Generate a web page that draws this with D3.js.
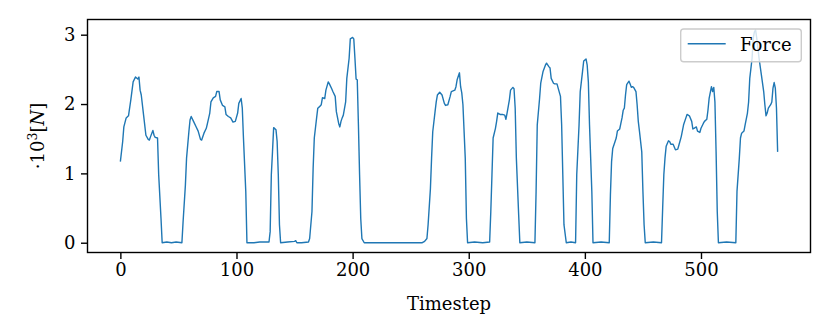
<!DOCTYPE html>
<html>
<head>
<meta charset="utf-8">
<script src="https://cdn.jsdelivr.net/npm/d3@7"></script>
<style>
  body { margin: 0; background: #fff; }
  svg { font-family: 'DejaVu Serif', serif; }
</style>
</head>
<body>
<script>
// timestep and force (x10^3 N)
const timestep = [
  0, 2, 3, 5, 7, 9, 11, 13, 15, 16, 17, 18, 20, 22, 24, 25, 26, 28, 29, 30, 32, 33, 35, 36, 40, 44, 48, 53,
  54, 56, 57, 59, 60, 61, 63, 65, 67, 69, 70, 72, 74, 75, 77, 78, 80, 82, 83, 85, 86, 88, 90, 91, 93, 95, 97, 99,
  101, 102, 104, 105, 106, 108, 109, 115, 120, 128,
  129, 130, 131, 132, 134, 135, 136, 137, 138, 144, 150, 151, 152, 156, 162,
  163, 165, 166, 167, 169, 170, 172, 173, 174, 176, 177, 179, 180, 182, 183, 185, 186, 188, 189, 190, 191, 192,
  194, 195, 197, 198, 200, 201, 202, 203, 204, 205, 206, 207, 208, 210, 230, 250, 260, 262, 264,
  265, 267, 268, 269, 271, 272, 273, 275, 277, 279, 280, 282, 284, 285, 288, 289, 290, 292, 293, 294, 295, 297,
  298, 299, 305, 312, 318,
  319, 320, 321, 323, 324, 325, 327, 329, 331, 332, 333, 335, 336, 338, 339, 340, 341, 343, 344, 350, 357,
  358, 359, 361, 362, 364, 366, 367, 369, 370, 371, 373, 374, 376, 377, 379, 380, 381, 382, 384, 388, 392,
  393, 395, 396, 398, 399, 401, 402, 403, 404, 406, 407, 414, 421,
  422, 423, 424, 426, 427, 428, 430, 431, 432, 433, 434, 435, 436, 438, 439, 440, 441, 442, 444, 445, 446, 447,
  449, 450, 451, 452, 459, 466,
  467, 468, 469, 470, 472, 473, 474, 476, 478, 480, 481, 483, 485, 487, 488, 490, 492, 493, 494, 496, 497, 499,
  500, 502, 503, 505, 506, 507, 509, 510, 511, 512, 513, 514, 515, 522, 530,
  531, 533, 534, 535, 537, 538, 540, 541, 542, 544, 545, 546, 547, 548, 550, 552, 554, 555, 556, 557, 558, 560,
  561, 562, 563, 564, 565, 566
];
const force = [
  1.17, 1.46, 1.67, 1.80, 1.83, 2.06, 2.32, 2.39, 2.36, 2.39, 2.20, 2.13, 1.84, 1.55, 1.49, 1.48, 1.53, 1.62, 1.55, 1.52, 1.51, 0.98, 0.35, 0.00, 0.01, 0.00, 0.01, 0.00,
  0.30, 0.83, 1.22, 1.60, 1.77, 1.82, 1.75, 1.68, 1.61, 1.49, 1.48, 1.58, 1.65, 1.72, 1.87, 2.03, 2.09, 2.11, 2.18, 2.18, 2.06, 1.98, 1.96, 1.85, 1.82, 1.80, 1.74, 1.75,
  1.87, 2.01, 2.08, 1.94, 1.51, 0.74, 0.00, 0.00, 0.01, 0.01,
  0.16, 0.98, 1.31, 1.66, 1.63, 1.46, 0.98, 0.26, 0.00, 0.01, 0.02, 0.03, 0.00, 0.00, 0.01,
  0.06, 0.45, 1.07, 1.51, 1.80, 1.94, 1.97, 1.99, 2.09, 2.08, 2.20, 2.32, 2.29, 2.22, 2.18, 2.11, 1.89, 1.72, 1.67, 1.75, 1.80, 1.84,
  2.03, 2.37, 2.66, 2.94, 2.96, 2.94, 2.66, 2.36, 2.35, 1.70, 0.98, 0.35, 0.06, 0.00, 0.00, 0.00, 0.00, 0.02, 0.06,
  0.26, 0.78, 1.22, 1.60, 1.89, 2.03, 2.13, 2.17, 2.13, 2.01, 1.98, 1.99, 2.11, 2.18, 2.20, 2.25, 2.35, 2.45, 2.25, 2.16, 1.99, 1.22,
  0.35, 0.00, 0.01, 0.00, 0.01,
  0.45, 0.98, 1.51, 1.65, 1.75, 1.87, 1.85, 1.85, 1.84, 1.78, 1.87, 2.06, 2.20, 2.24, 2.22, 1.94, 1.22, 0.40, 0.00, 0.01, 0.00,
  0.74, 1.70, 2.08, 2.30, 2.47, 2.56, 2.59, 2.54, 2.52, 2.37, 2.30, 2.29, 2.29, 2.23, 2.11, 1.70, 0.98, 0.26, 0.00, 0.01, 0.00,
  0.98, 1.70, 2.18, 2.47, 2.62, 2.65, 2.56, 2.32, 1.70, 0.74, 0.00, 0.01, 0.00,
  0.69, 1.17, 1.36, 1.46, 1.51, 1.61, 1.64, 1.72, 1.80, 1.91, 1.94, 2.13, 2.28, 2.33, 2.29, 2.24, 2.25, 2.24, 2.18, 1.99, 1.75, 1.61,
  1.31, 0.74, 0.26, 0.00, 0.01, 0.00,
  0.50, 0.98, 1.22, 1.39, 1.47, 1.46, 1.42, 1.42, 1.34, 1.35, 1.41, 1.53, 1.70, 1.80, 1.85, 1.83, 1.75, 1.64, 1.65, 1.67, 1.61, 1.59,
  1.65, 1.72, 1.75, 1.78, 1.91, 2.08, 2.25, 2.18, 2.24, 2.03, 1.31, 0.45, 0.00, 0.01, 0.00,
  0.74, 1.22, 1.51, 1.58, 1.61, 1.70, 1.87, 2.03, 2.37, 2.66, 2.95, 3.04, 3.07, 2.95, 2.66, 2.42, 2.18, 1.99, 1.83, 1.87, 1.94, 1.99,
  2.03, 2.23, 2.31, 2.23, 1.94, 1.31
];
const xTicks = [0, 100, 200, 300, 400, 500];
const yTicks = [0, 1, 2, 3];
const seriesName = 'Force';

const width = 830;
const height = 332;
const margin = { top: 19.5, right: 19.5, bottom: 79.5, left: 87.5 };
const fontSize = 18;

const data = timestep.map((t, i) => ({ t: t, v: force[i] }));

const svg = d3.select('body').append('svg')
  .attr('width', width)
  .attr('height', height);

const xScale = d3.scaleLinear()
  .domain([-28.3, 594.3])
  .range([margin.left, width - margin.right]);

const yScale = d3.scaleLinear()
  .domain([-0.141, 3.219])
  .range([height - margin.bottom, margin.top]);

const xAxis = d3.axisBottom(xScale)
  .tickValues(xTicks)
  .tickFormat(d3.format('d'))
  .tickSize(6.5)
  .tickPadding(4)
  .tickSizeOuter(0);

const yAxis = d3.axisLeft(yScale)
  .tickValues(yTicks)
  .tickFormat(d3.format('d'))
  .tickSize(6.5)
  .tickPadding(5.5)
  .tickSizeOuter(0);

const gx = svg.append('g')
  .attr('transform', 'translate(0,' + (height - margin.bottom) + ')')
  .call(xAxis);
const gy = svg.append('g')
  .attr('transform', 'translate(' + margin.left + ',0)')
  .call(yAxis);

[gx, gy].forEach((g) => {
  g.select('.domain').remove();
  g.selectAll('.tick line').attr('stroke', '#000').attr('stroke-width', 1.4);
  g.selectAll('.tick text')
    .attr('fill', '#000')
    .style('font-family', 'DejaVu Serif')
    .style('font-size', fontSize + 'px');
});

// line
svg.append('path')
  .datum(data)
  .attr('fill', 'none')
  .attr('stroke', '#1f77b4')
  .attr('stroke-width', 1.4)
  .attr('stroke-linejoin', 'round')
  .attr('d', d3.line().x((d) => xScale(d.t)).y((d) => yScale(d.v)));

// frame
svg.append('rect')
  .attr('x', margin.left)
  .attr('y', margin.top)
  .attr('width', width - margin.left - margin.right)
  .attr('height', height - margin.top - margin.bottom)
  .attr('fill', 'none')
  .attr('stroke', '#000')
  .attr('stroke-width', 1.4);

// axis labels
svg.append('text')
  .attr('x', (margin.left + width - margin.right) / 2)
  .attr('y', 310)
  .attr('text-anchor', 'middle')
  .style('font-size', fontSize + 'px')
  .text('Timestep');

const ylab = svg.append('text')
  .attr('transform', 'translate(44,' + ((margin.top + height - margin.bottom) / 2) + ') rotate(-90)')
  .attr('text-anchor', 'middle')
  .style('font-size', fontSize + 'px');
ylab.append('tspan').text('\u00b710');
ylab.append('tspan').attr('dy', -7).style('font-size', (fontSize * 0.7) + 'px').text('3');
ylab.append('tspan').attr('dy', 7).text('[');
ylab.append('tspan').style('font-style', 'italic').text('N');
ylab.append('tspan').text(']');

// legend
const legend = svg.append('g').attr('class', 'legend');
legend.append('rect')
  .attr('x', 680.7)
  .attr('y', 29)
  .attr('width', 120.6)
  .attr('height', 32.7)
  .attr('rx', 3)
  .attr('fill', 'rgba(255,255,255,0.8)')
  .attr('stroke', '#cccccc')
  .attr('stroke-width', 1.4);
legend.append('line')
  .attr('x1', 687.7)
  .attr('x2', 725.7)
  .attr('y1', 43.7)
  .attr('y2', 43.7)
  .attr('stroke', '#1f77b4')
  .attr('stroke-width', 1.4);
legend.append('text')
  .attr('x', 740)
  .attr('y', 50.5)
  .style('font-size', fontSize + 'px')
  .text(seriesName);
</script>
</body>
</html>
